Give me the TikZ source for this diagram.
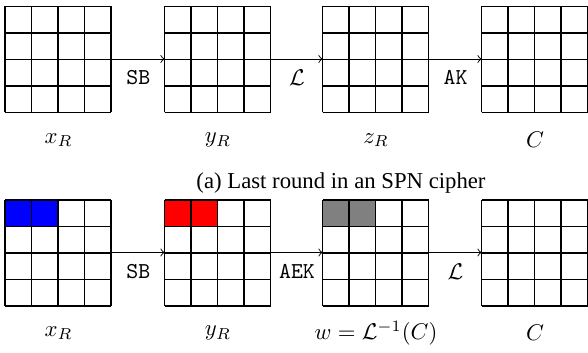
\documentclass[tikz,border=0pt]{standalone}
\usepackage{fontspec}
\newfontfamily\capfont{Liberation Serif}
\usetikzlibrary{positioning}
\tikzset{
  state/.style={minimum size=46.64pt, inner sep=0pt},
  op/.style={font=\ttfamily, below, yshift=-1.5pt},
}
\begin{document}
\begin{tikzpicture}[x=0.44pt, y=-0.44pt]
	\useasboundingbox (0,0) rectangle (588,352);
	
	% Zustaende (oben: letzte Runde, unten: Angriff)
	\foreach \n/\x/\y in {xa/58.5/59, ya/218/59, za/376/59, ca/535/59,
		xb/58.5/252.5, yb/218/252.5, wb/376/252.5, cb/535/252.5}
	\node[state] (\n) at (\x,\y) {};
	
	% aktive Bytes
	\fill[blue] (xb.north west) rectangle ++(23.32pt,-11.66pt);
	\fill[red] (yb.north west) rectangle ++(23.32pt,-11.66pt);
	\fill[gray] (wb.north west) rectangle ++(23.32pt,-11.66pt);
	
	% 4x4 Gitter
	\foreach \n in {xa,ya,za,ca,xb,yb,wb,cb}
	\draw[line width=0.5pt, shift={(\n.south west)}, step=11.66pt] (0,0) grid (46.65pt,46.65pt);
	
	% Operationen
	\draw[->] (xa) -- node[op] {SB} (ya);
	\draw[->] (ya) -- node[below, yshift=-1.5pt] {$\mathcal{L}$} (za);
	\draw[->] (za) -- node[op] {AK} (ca);
	\draw[->] (xb) -- node[op] {SB} (yb);
	\draw[->] (yb) -- node[op] {AEK} (wb);
	\draw[->] (wb) -- node[below, yshift=-1.5pt] {$\mathcal{L}$} (cb);
	
	% Beschriftungen
	\node (lxa) at (58.5,140) {$x_R$};
	\node (lya) at (218,140) {$y_R$};
	\node (lza) at (376,140) {$z_R$};
	\node (lca) at (535,140) {$C$};
	\node (cap) at (341,183) {\capfont (a) Last round in an SPN cipher};
	\node (lxb) at (58.5,333) {$x_R$};
	\node (lyb) at (218,333) {$y_R$};
	\node (lwb) at (376,333) {$w=\mathcal{L}^{-1}(C)$};
	\node (lcb) at (535,333) {$C$};
\end{tikzpicture}
\end{document}
